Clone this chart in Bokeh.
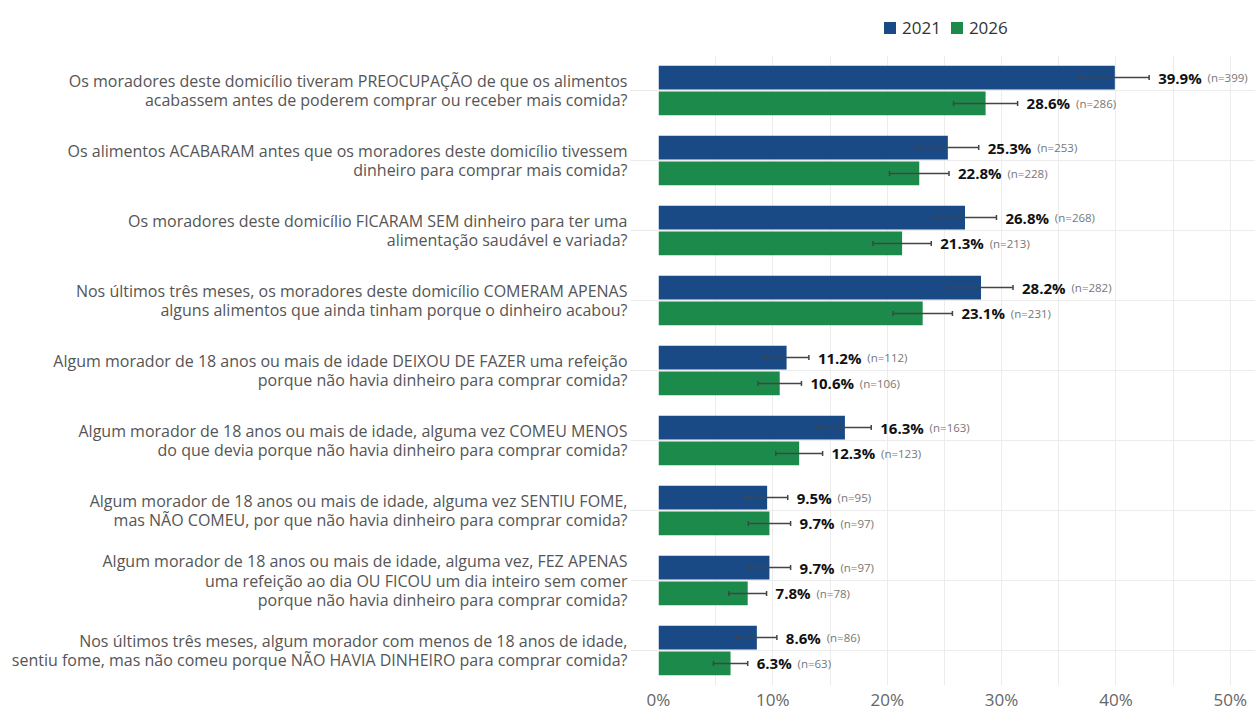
from bokeh.plotting import figure
from bokeh.layouts import column
from bokeh.models import ColumnDataSource, FactorRange, FixedTicker, Legend, LegendItem, CustomJSTickFormatter
from bokeh.transform import dodge
from bokeh.core.properties import value
from bokeh.embed import file_html
from bokeh.resources import INLINE
import math

questions = [
    "Os moradores deste domicílio tiveram PREOCUPAÇÃO de que os alimentos\nacabassem antes de poderem comprar ou receber mais comida?",
    "Os alimentos ACABARAM antes que os moradores deste domicílio tivessem\ndinheiro para comprar mais comida?",
    "Os moradores deste domicílio FICARAM SEM dinheiro para ter uma\nalimentação saudável e variada?",
    "Nos últimos três meses, os moradores deste domicílio COMERAM APENAS\nalguns alimentos que ainda tinham porque o dinheiro acabou?",
    "Algum morador de 18 anos ou mais de idade DEIXOU DE FAZER uma refeição\nporque não havia dinheiro para comprar comida?",
    "Algum morador de 18 anos ou mais de idade, alguma vez COMEU MENOS\ndo que devia porque não havia dinheiro para comprar comida?",
    "Algum morador de 18 anos ou mais de idade, alguma vez SENTIU FOME,\nmas NÃO COMEU, por que não havia dinheiro para comprar comida?",
    "Algum morador de 18 anos ou mais de idade, alguma vez, FEZ APENAS\numa refeição ao dia OU FICOU um dia inteiro sem comer\nporque não havia dinheiro para comprar comida?",
    "Nos últimos três meses, algum morador com menos de 18 anos de idade,\nsentiu fome, mas não comeu porque NÃO HAVIA DINHEIRO para comprar comida?",
]
series = ["2021", "2026"]
pct_2021 = [39.9, 25.3, 26.8, 28.2, 11.2, 16.3, 9.5, 9.7, 8.6]
pct_2026 = [28.6, 22.8, 21.3, 23.1, 10.6, 12.3, 9.7, 7.8, 6.3]
n_2021 = [399, 253, 268, 282, 112, 163, 95, 97, 86]
n_2026 = [286, 228, 213, 231, 106, 123, 97, 78, 63]
err_2021 = [3.0, 2.7, 2.75, 2.8, 1.95, 2.3, 1.8, 1.85, 1.75]
err_2026 = [2.8, 2.6, 2.55, 2.6, 1.9, 2.05, 1.85, 1.65, 1.5]
x_ticks = [0, 10, 20, 30, 40, 50]

BLUE = "#1a4a86"
GREEN = "#1c8a4b"
FONT = "Open Sans"

def text_width(s):
    w = 0.0
    for ch in s:
        if ch.isdigit():
            w += 8.6
        elif ch == ".":
            w += 4.0
        elif ch == "%":
            w += 12.6
        else:
            w += 8.0
    return w

def make_source(vals, ns, errs):
    labs = [f"{v:.1f}%" for v in vals]
    return ColumnDataSource(dict(
        q=questions,
        v=vals,
        lo=[v - e for v, e in zip(vals, errs)],
        hi=[v + e for v, e in zip(vals, errs)],
        lab=labs,
        nlab=[f"(n={n})" for n in ns],
        noff=[9 + text_width(l) + 7 for l in labs],
    ))

src21 = make_source(pct_2021, n_2021, err_2021)
src26 = make_source(pct_2026, n_2026, err_2026)

W = 1255
LEG_H = 44
H = 713 - LEG_H
BL, BT, BB = 658, 11, 22

# ---- legend strip (its frame is aligned with the main frame by the column) ----
pl = figure(width=W, height=LEG_H, x_range=(-1000, -999), y_range=(-1000, -999),
            output_backend="svg", toolbar_location=None,
            x_axis_type=None, y_axis_type=None,
            min_border_left=BL, min_border_right=0, min_border_top=0, min_border_bottom=0)
pl.outline_line_color = None
pl.xgrid.visible = False
pl.ygrid.visible = False
# same data, but outside this strip's view: only their legend swatches show
lr21 = pl.hbar(y="v", left=0, right="v", height=0.5, source=src21, fill_color=BLUE, line_color=None)
lr26 = pl.hbar(y="v", left=0, right="v", height=0.5, source=src26, fill_color=GREEN, line_color=None)
legend = Legend(items=[LegendItem(label=series[0], renderers=[lr21]),
                       LegendItem(label=series[1], renderers=[lr26])],
                orientation="horizontal", location=(224, 5),
                glyph_width=15, glyph_height=15, label_text_font=FONT,
                label_text_font_size="17px", label_text_color="#333333",
                border_line_color=None, background_fill_alpha=0,
                spacing=8, padding=2, margin=0, label_standoff=5)
pl.add_layout(legend, "center")

# ---- main chart ----
p = figure(
    width=W, height=H,
    y_range=FactorRange(*reversed(questions)),
    x_range=(0, 52.2),
    output_backend="svg", toolbar_location=None,
    min_border_left=BL, min_border_right=0, min_border_top=BT, min_border_bottom=BB,
)
p.outline_line_color = None
p.background_fill_color = "white"

DOFF = 0.185
BH = 0.34
p.hbar(y=dodge("q", DOFF, range=p.y_range), left=0, right="v", height=BH,
       source=src21, fill_color=BLUE, line_color=None)
p.hbar(y=dodge("q", -DOFF, range=p.y_range), left=0, right="v", height=BH,
       source=src26, fill_color=GREEN, line_color=None)

for src, off in ((src21, DOFF), (src26, -DOFF)):
    yy = dodge("q", off, range=p.y_range)
    p.segment(x0="lo", x1="hi", y0=yy, y1=yy, source=src, line_color="#444444", line_width=1.5)
    p.scatter(x="hi", y=yy, source=src, marker="dash", angle=math.pi / 2, size=5,
              line_color="#444444", line_width=1.5)
    p.scatter(x="lo", y=yy, source=src, marker="dash", angle=math.pi / 2, size=5,
              line_color="#444444", line_width=1.5)
    p.text(x="hi", y=yy, text="lab", source=src, x_offset=9, text_baseline="middle",
           text_align="left", text_font=value(FONT), text_font_style="bold",
           text_font_size="15px", text_color="#111111")
    p.text(x="hi", y=yy, text="nlab", source=src, x_offset="noff", text_baseline="middle",
           text_align="left", text_font=value(FONT), text_font_size="11.5px", text_color="#777777")

p.xaxis.ticker = FixedTicker(ticks=x_ticks, minor_ticks=[5, 15, 25, 35, 45])
p.xaxis.formatter = CustomJSTickFormatter(code="return tick + '%';")
p.xaxis.axis_line_color = None
p.xaxis.major_tick_line_color = None
p.xaxis.minor_tick_line_color = None
p.xaxis.major_tick_out = 0
p.xaxis.minor_tick_out = 0
p.xaxis.major_label_text_font = FONT
p.xaxis.major_label_text_font_size = "17px"
p.xaxis.major_label_text_color = "#666666"
p.xaxis.major_label_standoff = 2

p.yaxis.axis_line_color = None
p.yaxis.major_tick_out = 28
p.yaxis.major_tick_in = 0
p.yaxis.major_tick_line_color = "#ebebeb"
p.yaxis.major_label_text_font = FONT
p.yaxis.major_label_text_font_size = "16px"
p.yaxis.major_label_text_line_height = 0.87
p.yaxis.major_label_text_color = "#555555"
p.yaxis.major_label_standoff = 3

p.xgrid.grid_line_color = "#ececec"
p.xgrid.minor_grid_line_color = "#ececec"
p.ygrid.grid_line_color = "#ececec"

layout = column(pl, p, spacing=0)
open("out.html", "w").write(file_html(layout, INLINE))
